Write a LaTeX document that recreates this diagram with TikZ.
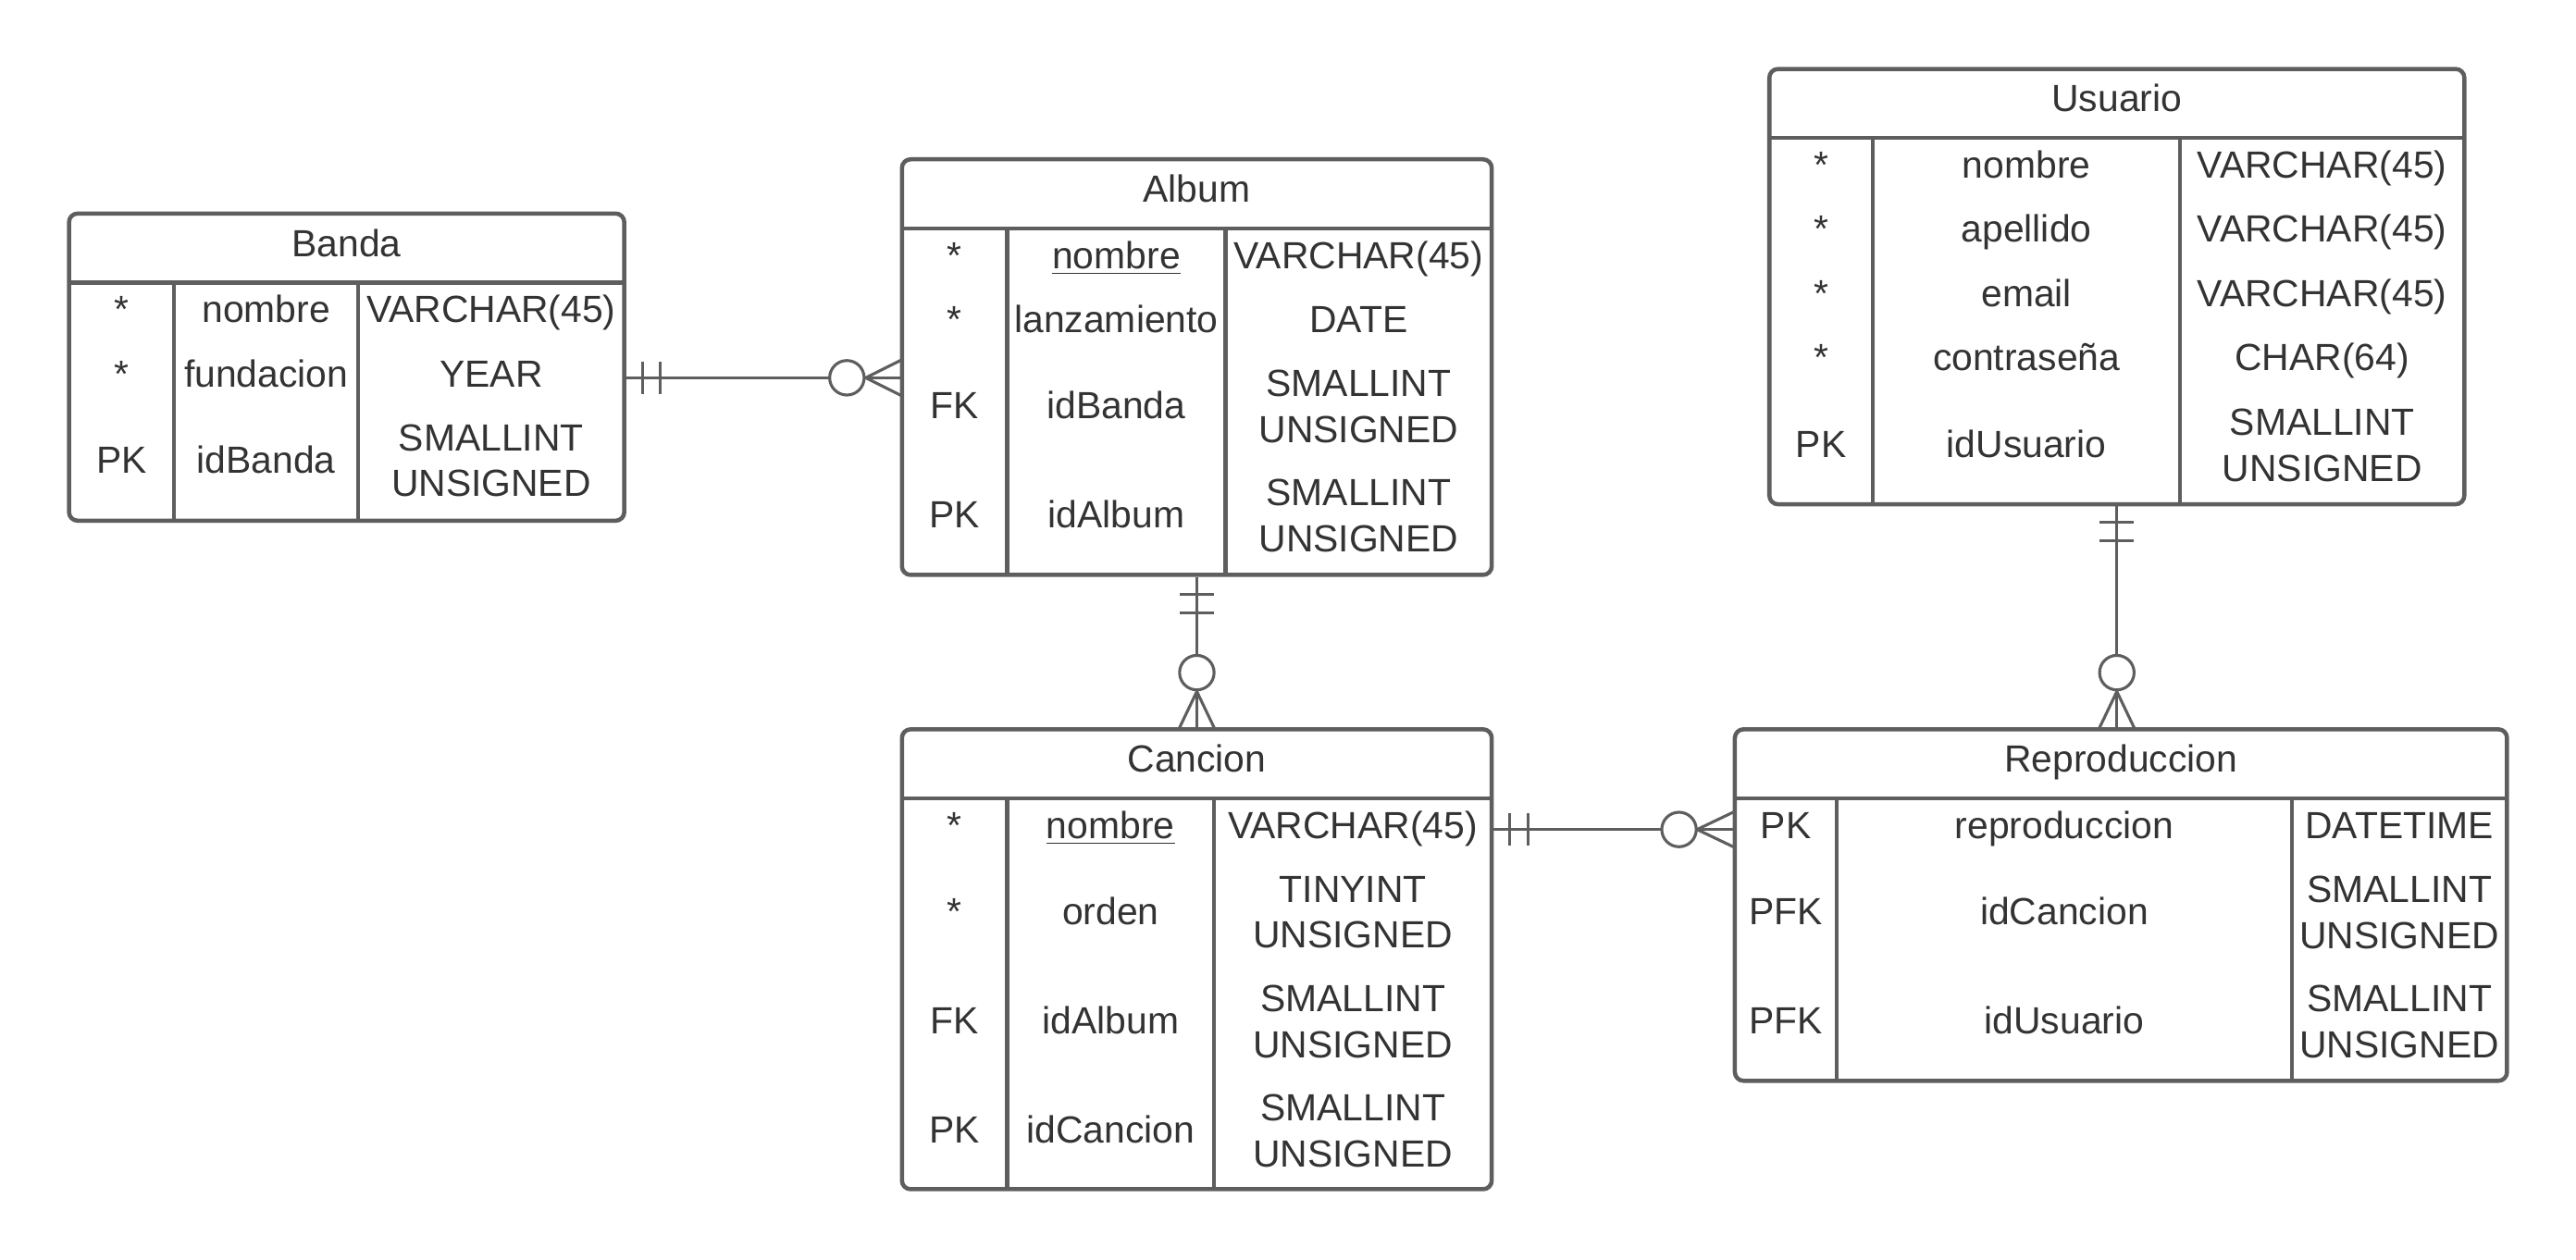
\documentclass[tikz,border=0pt]{standalone}
\usepackage{fontspec}
\setmainfont{Liberation Sans}
\usetikzlibrary{fit}

\definecolor{erline}{HTML}{5E5E5E}
\definecolor{ertext}{HTML}{333333}

\begin{document}
\begin{tikzpicture}[x=0.02cm, y=-0.02cm,
        entity/.style={draw=erline, line width=1.45pt, rounded corners=3pt, inner sep=0pt},
        divider/.style={draw=erline, line width=1.45pt},
        cell/.style={text=ertext, align=center, inner sep=0pt, font=\fontsize{13.1}{15.9}\selectfont},
        oneline/.style={cell, text height=0.94em, text depth=0.08em},
        link/.style={draw=erline, line width=1pt},
        ring/.style={draw=erline, line width=1pt, fill=white}]

        % Page
        \fill[white] (0,0) rectangle (1568,767);
        \useasboundingbox (0,0) rectangle (1568,767);

        % Banda table
        \node[entity, fit={(42,130) (380,317)}] (banda) {};
        \draw[divider] (42,172) -- (380,172);
        \draw[divider] (106,172) -- (106,317);
        \draw[divider] (218,172) -- (218,317);
        \node[oneline] (banda-title) at (211,148.5) {Banda};
        \node[oneline] (banda-k1) at (74,189) {*};
        \node[oneline] (banda-n1) at (162,189) {nombre};
        \node[oneline] (banda-t1) at (299,189) {VARCHAR(45)};
        \node[oneline] (banda-k2) at (74,228) {*};
        \node[oneline] (banda-n2) at (162,228) {fundacion};
        \node[oneline] (banda-t2) at (299,228) {YEAR};
        \node[oneline] (banda-k3) at (74,280.5) {PK};
        \node[oneline] (banda-n3) at (162,280.5) {idBanda};
        \node[cell] (banda-t3) at (299,280.5) {SMALLINT\\UNSIGNED};

        % Album table
        \node[entity, fit={(549,97) (908,350)}] (album) {};
        \draw[divider] (549,139) -- (908,139);
        \draw[divider] (613,139) -- (613,350);
        \draw[divider] (746,139) -- (746,350);
        \node[oneline] (album-title) at (728.5,115.5) {Album};
        \node[oneline] (album-k1) at (581,156) {*};
        \node[oneline] (album-n1) at (679.5,156) {\underline{nombre}};
        \node[oneline] (album-t1) at (827,156) {VARCHAR(45)};
        \node[oneline] (album-k2) at (581,195) {*};
        \node[oneline] (album-n2) at (679.5,195) {lanzamiento};
        \node[oneline] (album-t2) at (827,195) {DATE};
        \node[oneline] (album-k3) at (581,247.5) {FK};
        \node[oneline] (album-n3) at (679.5,247.5) {idBanda};
        \node[cell] (album-t3) at (827,247.5) {SMALLINT\\UNSIGNED};
        \node[oneline] (album-k4) at (581,314) {PK};
        \node[oneline] (album-n4) at (679.5,314) {idAlbum};
        \node[cell] (album-t4) at (827,314) {SMALLINT\\UNSIGNED};

        % Usuario table
        \node[entity, fit={(1077,42) (1500,307)}] (usuario) {};
        \draw[divider] (1077,84) -- (1500,84);
        \draw[divider] (1140,84) -- (1140,307);
        \draw[divider] (1327,84) -- (1327,307);
        \node[oneline] (usuario-title) at (1288.5,60.5) {Usuario};
        \node[oneline] (usuario-k1) at (1108.5,101) {*};
        \node[oneline] (usuario-n1) at (1233.5,101) {nombre};
        \node[oneline] (usuario-t1) at (1413.5,101) {VARCHAR(45)};
        \node[oneline] (usuario-k2) at (1108.5,140) {*};
        \node[oneline] (usuario-n2) at (1233.5,140) {apellido};
        \node[oneline] (usuario-t2) at (1413.5,140) {VARCHAR(45)};
        \node[oneline] (usuario-k3) at (1108.5,179) {*};
        \node[oneline] (usuario-n3) at (1233.5,179) {email};
        \node[oneline] (usuario-t3) at (1413.5,179) {VARCHAR(45)};
        \node[oneline] (usuario-k4) at (1108.5,218) {*};
        \node[oneline] (usuario-n4) at (1233.5,218) {contraseña};
        \node[oneline] (usuario-t4) at (1413.5,218) {CHAR(64)};
        \node[oneline] (usuario-k5) at (1108.5,271) {PK};
        \node[oneline] (usuario-n5) at (1233.5,271) {idUsuario};
        \node[cell] (usuario-t5) at (1413.5,271) {SMALLINT\\UNSIGNED};

        % Cancion table
        \node[entity, fit={(549,444) (908,724)}] (cancion) {};
        \draw[divider] (549,486) -- (908,486);
        \draw[divider] (613,486) -- (613,724);
        \draw[divider] (739,486) -- (739,724);
        \node[oneline] (cancion-title) at (728.5,462.5) {Cancion};
        \node[oneline] (cancion-k1) at (581,503) {*};
        \node[oneline] (cancion-n1) at (676,503) {\underline{nombre}};
        \node[oneline] (cancion-t1) at (823.5,503) {VARCHAR(45)};
        \node[oneline] (cancion-k2) at (581,555.5) {*};
        \node[oneline] (cancion-n2) at (676,555.5) {orden};
        \node[cell] (cancion-t2) at (823.5,555.5) {TINYINT\\UNSIGNED};
        \node[oneline] (cancion-k3) at (581,622) {FK};
        \node[oneline] (cancion-n3) at (676,622) {idAlbum};
        \node[cell] (cancion-t3) at (823.5,622) {SMALLINT\\UNSIGNED};
        \node[oneline] (cancion-k4) at (581,688.5) {PK};
        \node[oneline] (cancion-n4) at (676,688.5) {idCancion};
        \node[cell] (cancion-t4) at (823.5,688.5) {SMALLINT\\UNSIGNED};

        % Reproduccion table
        \node[entity, fit={(1056,444) (1526,658)}] (repro) {};
        \draw[divider] (1056,486) -- (1526,486);
        \draw[divider] (1118,486) -- (1118,658);
        \draw[divider] (1395,486) -- (1395,658);
        \node[oneline] (repro-title) at (1291,462.5) {Reproduccion};
        \node[oneline] (repro-k1) at (1087,503) {PK};
        \node[oneline] (repro-n1) at (1256.5,503) {reproduccion};
        \node[oneline] (repro-t1) at (1460.5,503) {DATETIME};
        \node[oneline] (repro-k2) at (1087,555.5) {PFK};
        \node[oneline] (repro-n2) at (1256.5,555.5) {idCancion};
        \node[cell] (repro-t2) at (1460.5,555.5) {SMALLINT\\UNSIGNED};
        \node[oneline] (repro-k3) at (1087,622) {PFK};
        \node[oneline] (repro-n3) at (1256.5,622) {idUsuario};
        \node[cell] (repro-t3) at (1460.5,622) {SMALLINT\\UNSIGNED};

        % Banda -- Album
        \draw[link] (banda.east |- 0,230) -- (album.west |- 0,230);
        \draw[link] (391,220) -- (391,240);
        \draw[link] (402,220) -- (402,240);
        \draw[link] (549,219) -- (527,230) -- (549,241);
        \draw[ring] (515.5,230) circle (10.5);

        % Album -- Cancion
        \draw[link] (album.south) -- (album.south |- cancion.north);
        \draw[link] (718,362) -- (739,362);
        \draw[link] (718,373) -- (739,373);
        \draw[link] (717.5,444) -- (728.5,421) -- (739.5,444);
        \draw[ring] (728.5,409.5) circle (10.5);

        % Cancion -- Reproduccion
        \draw[link] (cancion.east |- 0,505) -- (repro.west |- 0,505);
        \draw[link] (919,495) -- (919,515);
        \draw[link] (930,495) -- (930,515);
        \draw[link] (1056,494) -- (1033,505) -- (1056,516);
        \draw[ring] (1022,505) circle (10.5);

        % Usuario -- Reproduccion
        \draw[link] (usuario.south) -- (usuario.south |- repro.north);
        \draw[link] (1278,318) -- (1299,318);
        \draw[link] (1278,329) -- (1299,329);
        \draw[link] (1277.5,444) -- (1288.5,421) -- (1299.5,444);
        \draw[ring] (1288.5,409.5) circle (10.5);
\end{tikzpicture}
\end{document}
